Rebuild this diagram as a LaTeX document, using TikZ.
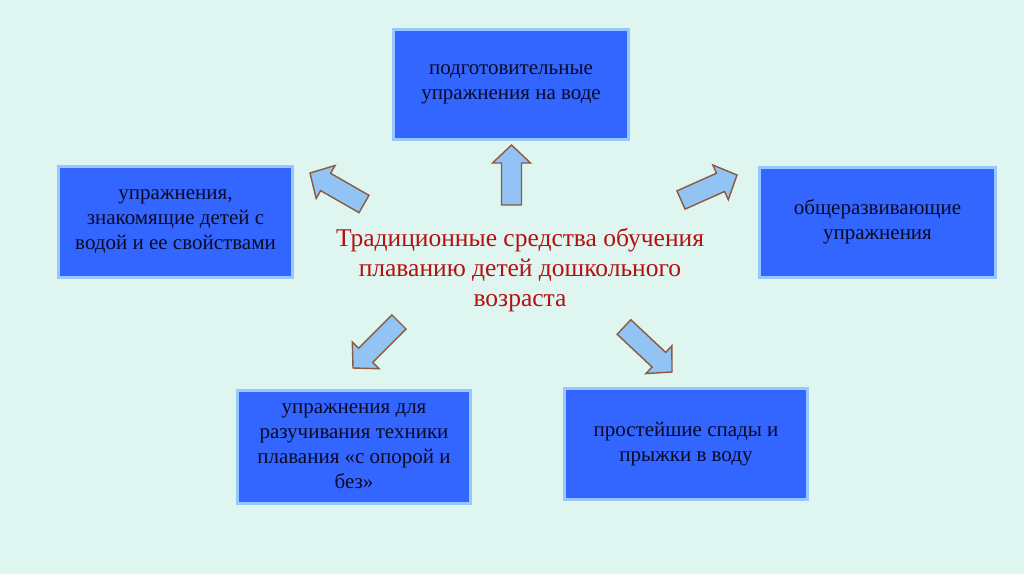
\documentclass[tikz,border=0pt]{standalone}
\usepackage{fontspec}
\setmainfont{Liberation Serif}
\usetikzlibrary{calc}
\definecolor{bgc}{RGB}{222,245,240}
\definecolor{boxfill}{RGB}{51,102,255}
\definecolor{boxline}{RGB}{150,200,255}
\definecolor{arrfill}{RGB}{145,195,245}
\definecolor{arrline}{RGB}{140,90,60}
\definecolor{titlered}{RGB}{180,16,16}
\definecolor{boxtext}{RGB}{10,10,40}
\tikzset{
  infobox/.style={draw=boxline, line width=3pt, fill=boxfill, rectangle,
    align=center, text=boxtext, font=\fontsize{21}{25}\selectfont,
    inner sep=0pt},
  blockarrow/.style={draw=arrline, fill=arrfill, line width=1.4pt, line join=miter},
  titletext/.style={align=center, text=titlered, font=\fontsize{25.5}{30}\selectfont}
}
\newcommand\blockarr[2]{%
  \coordinate (bh) at ($(#2)!18pt!(#1)$);
  \draw[blockarrow] ($(#1)!10pt!90:(#2)$) -- ($(bh)!10pt!-90:(#1)$)
    -- ($(bh)!19pt!-90:(#1)$) -- (#2) -- ($(bh)!19pt!90:(#1)$)
    -- ($(bh)!10pt!90:(#1)$) -- ($(#1)!10pt!-90:(#2)$) -- cycle;
}
\begin{document}
\begin{tikzpicture}[x=1pt,y=-1pt]
\fill[bgc] (0,0) rectangle (1024,574);
\useasboundingbox (0,0) rectangle (1024,574);

\node[infobox, minimum width=235pt, minimum height=110pt] (top) at (511,84.5)
  {подготовительные\\упражнения на воде};
\node[infobox, minimum width=234pt, minimum height=111pt] (left) at (175.5,221.5)
  {упражнения,\\знакомящие детей с\\водой и ее свойствами};
\node[infobox, minimum width=236pt, minimum height=110pt] (right) at (877.5,222)
  {общеразвивающие\\упражнения};
\node[infobox, minimum width=233pt, minimum height=113pt] (bl) at (354,446.5)
  {упражнения для\\разучивания техники\\плавания «с опорой и\\без»};
\node[infobox, minimum width=243pt, minimum height=111pt] (br) at (686,444)
  {простейшие спады и\\прыжки в воду};

\node[titletext] (title) at (520,270)
  {Традиционные средства обучения\\плаванию детей дошкольного\\возраста};

\coordinate (upT) at (511.5,205); \coordinate (upH) at (511.5,145);
\coordinate (ulT) at (364,204);   \coordinate (ulH) at (310,173);
\coordinate (urT) at (681,200);   \coordinate (urH) at (737,175);
\coordinate (dlT) at (399,322);   \coordinate (dlH) at (353,368);
\coordinate (drT) at (624,327);   \coordinate (drH) at (672,372);

\blockarr{upT}{upH}
\blockarr{ulT}{ulH}
\blockarr{urT}{urH}
\blockarr{dlT}{dlH}
\blockarr{drT}{drH}
\end{tikzpicture}
\end{document}
